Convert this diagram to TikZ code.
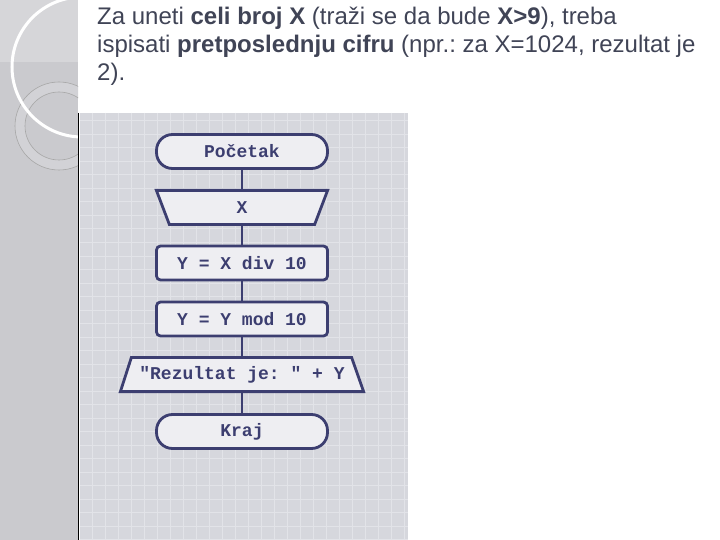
\documentclass[tikz,border=0pt]{standalone}
\usepackage{fontspec}
\setmainfont{Liberation Sans}
\newfontfamily\codefont{Liberation Mono}
\usetikzlibrary{positioning}
\definecolor{flowblue}{RGB}{60,62,112}
\definecolor{boxfill}{RGB}{238,238,242}
\definecolor{panelgray}{RGB}{214,215,221}
\definecolor{gridline}{RGB}{226,227,232}
\definecolor{stripgray}{RGB}{202,202,206}
\definecolor{cornergray}{RGB}{214,214,217}
\definecolor{ringgray}{RGB}{210,210,214}
\definecolor{textgray}{RGB}{64,68,86}
\frenchspacing

\begin{document}
\begin{tikzpicture}[x=1pt,y=-1pt,
	outline/.style={draw=flowblue, fill=boxfill, line width=2.8pt, line join=miter},
	box/.style={
		outline, text=flowblue,
		font=\codefont\bfseries\fontsize{18}{20}\selectfont,
		minimum width=171pt, minimum height=34pt, inner sep=0pt
	},
	term/.style={box, rounded corners=16pt},
	proc/.style={box, rounded corners=4pt},
	slant/.style={box, draw=none, fill=none},
	link/.style={draw=flowblue, line width=2.2pt},
	task/.style={anchor=base west, inner sep=0pt, text=textgray,
		font=\fontsize{24}{28}\selectfont}
	]
	\useasboundingbox (0,0) rectangle (720,540);
	\fill[white] (0,0) rectangle (720,540);
	
	% left strip with circles
	\fill[stripgray] (0,0) rectangle (78,540);
	\fill[cornergray] (0,0) rectangle (78,62);
	\begin{scope}
		\clip (0,0) rectangle (78,540);
		\fill[ringgray, even odd rule] (59,126) circle (44pt) (59,126) circle (34pt);
		\draw[gray!70, line width=0.6pt] (59,126) circle (44pt) (59,126) circle (34pt);
		\draw[white, line width=3pt] (82,67) circle (70pt);
	\end{scope}
	
	% grid panel
	\fill[panelgray] (80,113) rectangle (408,540);
	\foreach \gx in {92,105,...,405}
		\draw[gridline, line width=1pt] (\gx,113) -- (\gx,540);
	\foreach \gy in {121,134.5,...,540}
		\draw[gridline, line width=1pt] (80,\gy) -- (408,\gy);
	\draw[black, line width=1.2pt] (78.5,113) -- (78.5,540);
	
	% task text
	\node[task] (line1) at (97,25) {Za uneti \textbf{celi broj X} (traži se da bude \textbf{X>9}), treba};
	\node[task] (line2) at (97,53) {ispisati \textbf{pretposlednju cifru} (npr.: za X=1024, rezultat je};
	\node[task] (line3) at (97,81) {2).};
	
	% trapezoids for input and output
	\path[outline] (156.4,190.4) -- (327.6,190.4) -- (314.6,224.6) -- (169.4,224.6) -- cycle;
	\path[outline] (131.4,357.4) -- (351.6,357.4) -- (363.6,391.6) -- (120.4,391.6) -- cycle;
	
	% flowchart
	\node[term]  (start)  at (242,151.5) {Početak};
	\node[slant] (input)  at (242,207.5) {X};
	\node[proc]  (divide) at (242,263)   {Y = X div 10};
	\node[proc]  (modulo) at (242,319)   {Y = Y mod 10};
	\node[slant] (output) at (242,374.5) {"Rezultat je: " + Y};
	\node[term]  (stop)   at (242,431.5) {Kraj};
	
	\foreach \a/\b in {start/input, input/divide, divide/modulo, modulo/output, output/stop}
		\draw[link] (\a) -- (\b);
\end{tikzpicture}
\end{document}
